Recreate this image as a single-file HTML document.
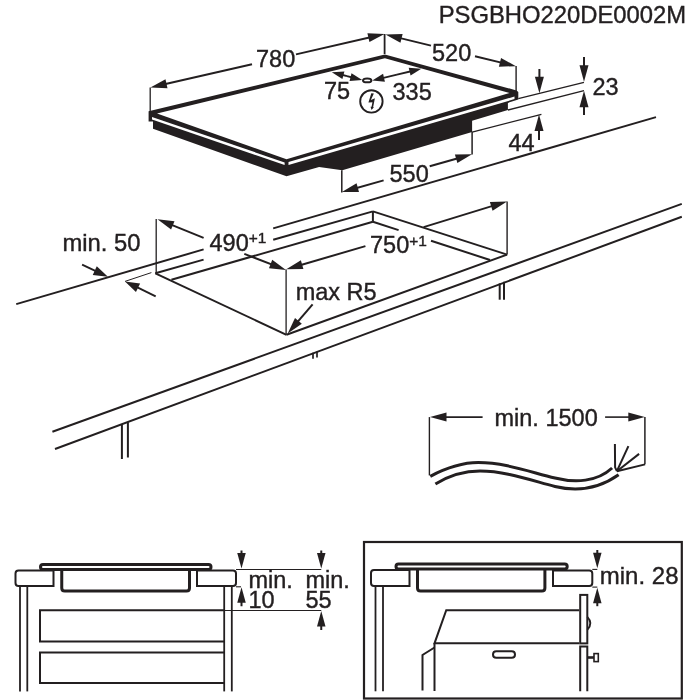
<!DOCTYPE html>
<html><head><meta charset="utf-8"><style>
html,body{margin:0;padding:0;background:#fff;width:700px;height:700px;overflow:hidden}
svg{display:block;will-change:transform}
text{font-family:"Liberation Sans",sans-serif;fill:#231f20;stroke:#231f20;stroke-width:0.4px}
</style></head><body>
<svg width="700" height="700" viewBox="0 0 700 700">
<g stroke="#231f20" fill="#231f20" stroke-linecap="butt">
<polygon points="148.6,111.3 384.9,54.55 516.5,90.4 518.3,92 518.3,99.5 507.9,102.9 507.9,110 472.1,120.7 472.1,132.1 342.3,170.2 319.1,167 286.5,176.25 153,128.7 153,121.4 148.6,121.4" fill="#231f20" stroke="none"/>
<polygon points="157,113.4 384.9,58.15 509.5,93 286.5,159.3" fill="#fff" stroke="none"/>
<polygon points="152,117 284.6,162.4 284.6,165.1 152,119.6" fill="#fff" stroke="none"/>
<polygon points="288.5,162.1 514.5,96.5 514.5,99.1 288.5,164.9" fill="#fff" stroke="none"/>
<line x1="150.2" y1="112" x2="150.2" y2="87.4" stroke-width="1.3"/>
<line x1="252" y1="64.3" x2="160.05" y2="85.21" stroke-width="2"/>
<polygon points="150.4,87.4 165.49,79.35 167.49,88.13" fill="#231f20" stroke="none"/>
<line x1="296" y1="54.4" x2="374.85" y2="36.22" stroke-width="2"/>
<polygon points="384.5,34 369.43,42.09 367.41,33.32" fill="#231f20" stroke="none"/>
<line x1="384.6" y1="54" x2="384.6" y2="34" stroke-width="1.8"/>
<line x1="431" y1="45.6" x2="395.12" y2="36.85" stroke-width="2"/>
<polygon points="385.5,34.5 402.6,34.04 400.46,42.78" fill="#231f20" stroke="none"/>
<line x1="475" y1="56.2" x2="506.38" y2="63.85" stroke-width="2"/>
<polygon points="516,66.2 498.9,66.66 501.04,57.92" fill="#231f20" stroke="none"/>
<line x1="516.1" y1="92" x2="516.1" y2="66" stroke-width="1.4"/>
<line x1="347" y1="76.2" x2="338.76" y2="74.03" stroke-width="1.9"/>
<polygon points="331.8,72.2 344.42,71.39 342.39,79.12" fill="#231f20" stroke="none"/>
<line x1="347" y1="76.2" x2="355.21" y2="78.25" stroke-width="1.9"/>
<polygon points="362.2,80 349.59,80.97 351.53,73.21" fill="#231f20" stroke="none"/>
<line x1="397" y1="74.7" x2="379.31" y2="78.85" stroke-width="1.9"/>
<polygon points="372.3,80.5 383.07,73.86 384.9,81.65" fill="#231f20" stroke="none"/>
<line x1="397" y1="74.7" x2="414.3" y2="70.5" stroke-width="1.9"/>
<polygon points="421.3,68.8 410.58,75.52 408.7,67.74" fill="#231f20" stroke="none"/>
<ellipse cx="367.2" cy="80.4" rx="4.2" ry="1.9" fill="none" stroke-width="2"/>
<circle cx="371.4" cy="101.4" r="11.2" fill="none" stroke-width="1.9"/>
<polygon points="371.29,93.29 373.86,93.46 370.89,99.97 374.89,98.26 373.17,107 373.86,107.29 371.57,110.03 370.54,106.71 371.57,106.71 372.43,102.14 368.43,102.43" fill="#231f20" stroke="none"/>
<line x1="518.3" y1="98.6" x2="584" y2="82.3" stroke-width="1.3"/>
<line x1="507.9" y1="110" x2="584" y2="90.6" stroke-width="1.3"/>
<line x1="539.4" y1="69" x2="539.4" y2="83.3" stroke-width="2"/>
<polygon points="539.4,93.2 534.9,76.7 543.9,76.7" fill="#231f20" stroke="none"/>
<line x1="584" y1="57" x2="584" y2="71.9" stroke-width="2"/>
<polygon points="584,81.8 579.5,65.3 588.5,65.3" fill="#231f20" stroke="none"/>
<line x1="584" y1="115" x2="584" y2="100.7" stroke-width="2"/>
<polygon points="584,90.8 588.5,107.3 579.5,107.3" fill="#231f20" stroke="none"/>
<line x1="472.1" y1="132.1" x2="541.4" y2="114.3" stroke-width="1.3"/>
<line x1="539" y1="140" x2="539" y2="124.4" stroke-width="2"/>
<polygon points="539,114.5 543.5,131 534.5,131" fill="#231f20" stroke="none"/>
<line x1="341.8" y1="170.2" x2="341.8" y2="192.5" stroke-width="1.5"/>
<line x1="383.6" y1="180.4" x2="351.43" y2="189.43" stroke-width="2"/>
<polygon points="341.9,192.1 356.57,183.31 359,191.98" fill="#231f20" stroke="none"/>
<line x1="429.7" y1="166.3" x2="462.48" y2="156.92" stroke-width="2"/>
<polygon points="472,154.2 457.37,163.06 454.9,154.41" fill="#231f20" stroke="none"/>
<line x1="472.1" y1="132.1" x2="472.1" y2="154.5" stroke-width="1.5"/>
<line x1="16.25" y1="304.1" x2="203.6" y2="249.4" stroke-width="2"/>
<line x1="273.2" y1="228.4" x2="656" y2="117.1" stroke-width="2"/>
<line x1="52.4" y1="431.8" x2="681.8" y2="203.9" stroke-width="2"/>
<line x1="55" y1="449" x2="681.8" y2="216.8" stroke-width="2"/>
<line x1="121.9" y1="424.5" x2="121.9" y2="459" stroke-width="2"/>
<line x1="127.9" y1="422.3" x2="127.9" y2="457.5" stroke-width="2"/>
<line x1="499.7" y1="283.4" x2="499.7" y2="299.7" stroke-width="2"/>
<line x1="504" y1="281.8" x2="504" y2="299.7" stroke-width="2"/>
<line x1="313" y1="352.8" x2="313" y2="358.8" stroke-width="1.7"/>
<line x1="317" y1="351.6" x2="317" y2="357.6" stroke-width="1.7"/>
<line x1="155.4" y1="273.3" x2="203.6" y2="259.6" stroke-width="2"/>
<line x1="273.2" y1="239.8" x2="372.9" y2="211.4" stroke-width="2"/>
<line x1="171.4" y1="279.7" x2="372.9" y2="221.7" stroke-width="2"/>
<line x1="372.9" y1="211.4" x2="372.9" y2="221.7" stroke-width="2"/>
<line x1="372.9" y1="211.4" x2="507.1" y2="254.6" stroke-width="2"/>
<line x1="372.9" y1="221.7" x2="398.6" y2="230.1" stroke-width="2"/>
<line x1="431" y1="240.7" x2="490" y2="260" stroke-width="2"/>
<line x1="155.4" y1="273.3" x2="286.5" y2="334.8" stroke-width="2"/>
<line x1="286.5" y1="334.8" x2="507.1" y2="254.6" stroke-width="2"/>
<line x1="286.1" y1="269.6" x2="286.1" y2="334.6" stroke-width="1.3"/>
<line x1="156.2" y1="219" x2="156.2" y2="273.8" stroke-width="1.3"/>
<line x1="507.1" y1="201.4" x2="507.1" y2="254.6" stroke-width="1.4"/>
<line x1="203.6" y1="237.9" x2="166.67" y2="222.92" stroke-width="2"/>
<polygon points="157.5,219.2 174.48,221.23 171.1,229.57" fill="#231f20" stroke="none"/>
<line x1="244.3" y1="253.9" x2="276.76" y2="266.43" stroke-width="2"/>
<polygon points="286,270 268.99,268.26 272.23,259.86" fill="#231f20" stroke="none"/>
<line x1="365.4" y1="246.1" x2="295.8" y2="266.51" stroke-width="2"/>
<polygon points="286.3,269.3 300.87,260.34 303.4,268.97" fill="#231f20" stroke="none"/>
<line x1="423.6" y1="227.1" x2="497.54" y2="204.41" stroke-width="2"/>
<polygon points="507,201.5 492.55,210.64 489.91,202.04" fill="#231f20" stroke="none"/>
<line x1="312.6" y1="304.3" x2="294.14" y2="325.88" stroke-width="2"/>
<polygon points="287.7,333.4 295.01,317.94 301.85,323.79" fill="#231f20" stroke="none"/>
<line x1="82.1" y1="264.7" x2="100.01" y2="273.03" stroke-width="1.9"/>
<polygon points="107.9,276.7 92.75,274.89 96.76,266.28" fill="#231f20" stroke="none"/>
<line x1="155.7" y1="296.4" x2="132.82" y2="285.22" stroke-width="1.9"/>
<polygon points="125,281.4 140.11,283.5 135.94,292.03" fill="#231f20" stroke="none"/>
<line x1="125" y1="281.4" x2="151.4" y2="272.6" stroke-width="1"/>
<line x1="429.4" y1="417.1" x2="429.4" y2="475.4" stroke-width="1.4"/>
<line x1="482.6" y1="417.1" x2="439.9" y2="417.1" stroke-width="1.6"/>
<polygon points="430,417.1 446.5,412.6 446.5,421.6" fill="#231f20" stroke="none"/>
<line x1="605.1" y1="417.1" x2="634.9" y2="417.1" stroke-width="1.6"/>
<polygon points="644.8,417.1 628.3,421.6 628.3,412.6" fill="#231f20" stroke="none"/>
<line x1="644.9" y1="417.1" x2="644.9" y2="464.3" stroke-width="1.5"/>
<line x1="645.1" y1="464.4" x2="616.9" y2="471.2" stroke-width="2"/>
<path d="M430.3,476.3 C450,466 465,462.6 478.3,462.6 C505,462.6 530,472 555,478 C575,483 597,482 612.1,468" fill="none" stroke-width="3"/>
<path d="M435.4,484 C452,474 466,471.1 480,471.1 C505,471.1 530,480 555,486.5 C578,492 600,488 618.6,474.8" fill="none" stroke-width="3"/>
<polyline points="614.9,444 615.1,467.3 616.9,471.2" fill="none" stroke-width="2"/>
<line x1="616.9" y1="471.2" x2="628.4" y2="446.1" stroke-width="2"/>
<line x1="616.9" y1="471.2" x2="639.1" y2="453.9" stroke-width="2"/>
<path d="M18.5,570.5 H53.5 Q53.5,570.5 53.5,570.5 V586 Q53.5,586 53.5,586 H18.5 Q15.5,586 15.5,583 V573.5 Q15.5,570.5 18.5,570.5 Z" fill="none" stroke-width="2"/>
<path d="M197,570.5 H233 Q236,570.5 236,573.5 V583 Q236,586 233,586 H197 Q197,586 197,586 V570.5 Q197,570.5 197,570.5 Z" fill="none" stroke-width="2"/>
<line x1="20" y1="586" x2="20" y2="691.4" stroke-width="1.8"/>
<line x1="27.3" y1="586" x2="27.3" y2="691.4" stroke-width="1.8"/>
<line x1="224.2" y1="586" x2="224.2" y2="691.4" stroke-width="1.8"/>
<line x1="231.8" y1="586" x2="231.8" y2="691.4" stroke-width="1.8"/>
<path d="M43,564.5 H208.5 Q211,564.5 211,567 V567 Q211,569.5 208.5,569.5 H43 Q40.5,569.5 40.5,567 V567 Q40.5,564.5 43,564.5 Z" fill="none" stroke-width="3"/>
<path d="M61.75,569.5 V588 Q61.75,591 64.75,591 H186.5 Q189.5,591 189.5,588 V569.5" fill="none" stroke-width="3"/>
<polyline points="224.2,610.3 40,610.3 40,641.4 224.2,641.4" fill="none" stroke-width="2"/>
<polyline points="224.2,652.6 40,652.6 40,683 224.2,683" fill="none" stroke-width="2"/>
<line x1="224.2" y1="610.5" x2="321.25" y2="610.5" stroke-width="1.1"/>
<line x1="236" y1="569.5" x2="321.25" y2="569.5" stroke-width="1.1"/>
<line x1="236" y1="586.8" x2="241" y2="586.8" stroke-width="1.1"/>
<line x1="241.5" y1="550.5" x2="241.5" y2="559.2" stroke-width="2"/>
<polygon points="241.5,568.5 237.25,553 245.75,553" fill="#231f20" stroke="none"/>
<line x1="321.25" y1="550.5" x2="321.25" y2="559.2" stroke-width="2"/>
<polygon points="321.25,568.5 317,553 325.5,553" fill="#231f20" stroke="none"/>
<line x1="241.5" y1="606.25" x2="241.5" y2="596.5" stroke-width="2"/>
<polygon points="241.5,587.2 245.75,602.7 237.25,602.7" fill="#231f20" stroke="none"/>
<line x1="321.25" y1="630" x2="321.25" y2="620.3" stroke-width="2"/>
<polygon points="321.25,611 325.5,626.5 317,626.5" fill="#231f20" stroke="none"/>
<rect x="364" y="542" width="317.8" height="156.5" fill="none" stroke-width="2.2"/>
<path d="M374,570 H409.5 Q409.5,570 409.5,570 V586 Q409.5,586 409.5,586 H374 Q371,586 371,583 V573 Q371,570 374,570 Z" fill="none" stroke-width="2"/>
<path d="M553,570.4 H589.3 Q592.3,570.4 592.3,573.4 V583.1 Q592.3,586.1 589.3,586.1 H553 Q553,586.1 553,586.1 V570.4 Q553,570.4 553,570.4 Z" fill="none" stroke-width="2"/>
<line x1="375.5" y1="586" x2="375.5" y2="691.3" stroke-width="1.8"/>
<line x1="383" y1="586" x2="383" y2="691.3" stroke-width="1.8"/>
<path d="M398.5,564.1 H564.7 Q567.2,564.1 567.2,566.6 V566.6 Q567.2,569.1 564.7,569.1 H398.5 Q396,569.1 396,566.6 V566.6 Q396,564.1 398.5,564.1 Z" fill="none" stroke-width="3"/>
<path d="M417.5,569.1 V588 Q417.5,591 420.5,591 H541.9 Q544.9,591 544.9,588 V569.1" fill="none" stroke-width="3"/>
<polyline points="579.2,610.2 446.25,610.2 434.5,643.3 579.2,643.3" fill="none" stroke-width="2"/>
<line x1="434.5" y1="643.3" x2="434.5" y2="691" stroke-width="2"/>
<polyline points="434.5,647.5 422.5,655 422.5,690.5" fill="none" stroke-width="2"/>
<path d="M496.3,651.2 H511.7 Q515,651.2 515,654.5 V654.5 Q515,657.8 511.7,657.8 H496.3 Q493,657.8 493,654.5 V654.5 Q493,651.2 496.3,651.2 Z" fill="none" stroke-width="2"/>
<rect x="580.2" y="594.9" width="7.1" height="48.5" fill="none" stroke-width="2.0"/>
<path d="M587.3,616.9 Q593.5,623.4 587.3,629.9" fill="none" stroke-width="1.8"/>
<polyline points="580.2,691.3 580.2,646.6 587.3,646.6 587.3,691.3" fill="none" stroke-width="2"/>
<line x1="587.3" y1="657.5" x2="594" y2="657.5" stroke-width="2.6"/>
<rect x="594" y="653.6" width="4.3" height="8" fill="none" stroke-width="1.6"/>
<line x1="592.3" y1="569.4" x2="597.3" y2="569.4" stroke-width="1.1"/>
<line x1="592.3" y1="587.1" x2="597.3" y2="587.1" stroke-width="1.1"/>
<line x1="597.3" y1="550" x2="597.3" y2="559" stroke-width="2"/>
<polygon points="597.3,568.3 593.05,552.8 601.55,552.8" fill="#231f20" stroke="none"/>
<line x1="597.3" y1="606.2" x2="597.3" y2="597" stroke-width="2"/>
<polygon points="597.3,587.7 601.55,603.2 593.05,603.2" fill="#231f20" stroke="none"/>
</g>
<g>
<text x="438.7" y="22.5" font-size="23.8" >PSGBHO220DE0002M</text>
<text x="256" y="67" font-size="23.5" >780</text>
<text x="432" y="61.4" font-size="23.5" >520</text>
<text x="324" y="98.9" font-size="23.5" >75</text>
<text x="392.5" y="100.2" font-size="23.5" >335</text>
<text x="592.5" y="94.5" font-size="23.5" >23</text>
<text x="508.5" y="150.7" font-size="23.5" >44</text>
<text x="389.5" y="181.8" font-size="23.5" >550</text>
<text x="62.5" y="251" font-size="23.8" >min. 50</text>
<text x="209.5" y="251.1" font-size="23.5" >490<tspan font-size="15.5" dy="-8">+1</tspan></text>
<text x="370" y="253.2" font-size="23.5" >750<tspan font-size="15.5" dy="-7.3">+1</tspan></text>
<text x="295.7" y="299.8" font-size="23.5" >max R5</text>
<text x="494.5" y="425.7" font-size="23.5" >min. 1500</text>
<text x="248.5" y="587.5" font-size="23.5" >min.</text>
<text x="248.5" y="607.5" font-size="23.5" >10</text>
<text x="305.5" y="587.5" font-size="23.5" >min.</text>
<text x="305.5" y="607.5" font-size="23.5" >55</text>
<text x="599.8" y="583.5" font-size="24" >min. 28</text>
</g>
</svg>
</body></html>
